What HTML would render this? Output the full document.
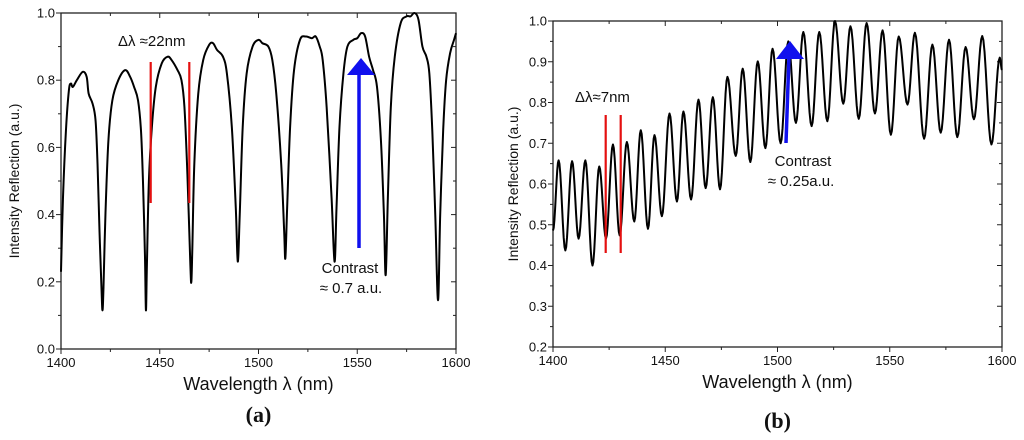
<!DOCTYPE html>
<html><head><meta charset="utf-8">
<style>
body{margin:0;background:#fff;width:1024px;height:440px;overflow:hidden}
svg{display:block}
text{font-family:"Liberation Sans",sans-serif;fill:#111}
</style></head>
<body>
<svg id="fig" width="1024" height="440" viewBox="0 0 1024 440"></svg>
<script>
// ---- Panel (a) data ----
const wlA=[1400,1401,1402.5,1404,1405,1406,1408,1411,1413,1414,1416,1417.5,1418.5,1419.5,1420.5,1421,1421.5,1422.5,1424,1426,1429,1432.5,1435,1437,1439,1440.5,1441.5,1442.5,1443,1443.5,1444.5,1446,1448,1451,1454,1456,1459,1461,1462.5,1464,1465.5,1466,1466.5,1467.5,1469.5,1472,1475,1477,1479,1482,1484,1486.5,1488.5,1489.5,1490.5,1492,1494,1497,1500,1502,1505,1507,1509,1511.5,1513,1513.6,1514.5,1516,1518,1521,1524,1527,1529,1531,1532.5,1534.5,1537,1538.5,1539.5,1541,1543,1545,1548,1550,1552,1554,1556,1558,1560,1562,1563.5,1564.4,1565.5,1567,1569,1572,1575,1577,1579,1581,1583,1585,1586.5,1588,1589.5,1590.9,1592,1593.5,1595,1597,1599,1600];
const reflA=[0.23,0.45,0.65,0.77,0.79,0.78,0.80,0.825,0.81,0.76,0.73,0.68,0.55,0.35,0.18,0.115,0.18,0.40,0.62,0.74,0.80,0.83,0.81,0.78,0.74,0.65,0.50,0.28,0.115,0.25,0.50,0.66,0.78,0.85,0.87,0.86,0.83,0.80,0.72,0.52,0.25,0.20,0.30,0.55,0.76,0.86,0.905,0.91,0.89,0.87,0.82,0.66,0.42,0.26,0.40,0.66,0.82,0.90,0.92,0.91,0.90,0.86,0.76,0.55,0.35,0.27,0.42,0.66,0.83,0.92,0.93,0.925,0.93,0.90,0.86,0.72,0.45,0.26,0.42,0.66,0.82,0.90,0.92,0.925,0.94,0.93,0.87,0.83,0.78,0.62,0.40,0.22,0.45,0.72,0.87,0.97,0.99,0.99,1.0,0.98,0.90,0.87,0.82,0.65,0.40,0.145,0.40,0.65,0.80,0.88,0.92,0.94];
const yTicksA=["0.0","0.2","0.4","0.6","0.8","1.0"];
const xTicks=["1400","1450","1500","1550","1600"];
// ---- Panel (b) data (alternating extrema) ----
const wlB=[1400,1402.5,1405.5,1408.5,1411.4,1414.4,1417.6,1420.6,1423.6,1426.7,1429.7,1432.9,1436.2,1439.1,1442.3,1445.2,1448.5,1451.9,1455.2,1458.1,1461.5,1464.8,1468,1471.2,1474.4,1477.7,1481.4,1484.5,1487.9,1491.2,1494.6,1497.8,1501.4,1504.8,1508.2,1511.5,1515.2,1518.6,1522.2,1525.6,1529.3,1532.5,1536.2,1539.7,1543.4,1546.8,1550.5,1554,1557.9,1561.2,1565.3,1569,1572.7,1576.4,1580.1,1583.8,1587.5,1591.2,1595.3,1599,1600];
const reflB=[0.486,0.658,0.437,0.656,0.466,0.658,0.40,0.643,0.466,0.697,0.474,0.703,0.508,0.732,0.49,0.72,0.521,0.773,0.557,0.778,0.562,0.807,0.59,0.813,0.587,0.863,0.669,0.883,0.654,0.901,0.688,0.932,0.70,0.95,0.75,0.973,0.742,0.973,0.754,1.0,0.797,0.987,0.76,0.995,0.773,0.977,0.721,0.962,0.795,0.971,0.711,0.942,0.726,0.954,0.715,0.936,0.759,0.963,0.697,0.91,0.88];
const yTicksB=["0.2","0.3","0.4","0.5","0.6","0.7","0.8","0.9","1.0"];

const NS="http://www.w3.org/2000/svg";
const svg=document.getElementById('fig');
function el(tag,attrs,parent){const e=document.createElementNS(NS,tag);for(const k in attrs)e.setAttribute(k,attrs[k]);(parent||svg).appendChild(e);return e;}

function panel(cfg){
  const g=el('g',{});
  
  
  const xs=v=>cfg.x0+(v-1400)/200*(cfg.x1-cfg.x0);
  const ys=v=>cfg.yb+(v-cfg.ymin)/(cfg.ymax-cfg.ymin)*(cfg.yt-cfg.yb);
  const fr=el('rect',{x:cfg.x0,y:cfg.yt,width:cfg.x1-cfg.x0,height:cfg.yb-cfg.yt,fill:'none',stroke:'#222','stroke-width':1.3},g);
  
  
  for(let v=1400;v<=1600;v+=25){
    const X=xs(v),maj=(v%50===0);
    el('line',{x1:X,x2:X,y1:cfg.yb,y2:cfg.yb+(maj?5:3),stroke:'#222'},g);
    el('line',{x1:X,x2:X,y1:cfg.yt,y2:cfg.yt+(maj?5:3),stroke:'#222'},g);
  }
  xTicks.forEach(t=>{const tx=el('text',{x:xs(+t),y:cfg.yb+18,'text-anchor':'middle','font-size':13},g);tx.textContent=t;
    
    });
  const step=cfg.ystep;
  for(let v=cfg.ymin;v<=cfg.ymax+1e-9;v+=step/2){
    const Y=ys(v),maj=Math.abs(Math.round(v/step)*step-v)<1e-6;
    el('line',{x1:cfg.x0-(maj?5:3),x2:cfg.x0,y1:Y,y2:Y,stroke:'#222'},g);
    el('line',{x1:cfg.x1-(maj?5:3),x2:cfg.x1,y1:Y,y2:Y,stroke:'#222'},g);
  }
  cfg.yTicks.forEach(t=>{const tx=el('text',{x:cfg.x0-6,y:ys(+t)+4.5,'text-anchor':'end','font-size':13},g);tx.textContent=t;
    
    });
  const xt=el('text',{x:(cfg.x0+cfg.x1)/2,y:cfg.yb+41,'text-anchor':'middle','font-size':18},g);
  xt.textContent='Wavelength λ (nm)';
  
  
  const yc=(cfg.yt+cfg.yb)/2;
  const yt=el('text',{x:cfg.ylx,y:yc,'text-anchor':'middle','font-size':14,transform:`rotate(-90 ${cfg.ylx} ${yc})`},g);
  yt.textContent='Intensity Reflection (a.u.)';
  
  
  const pl=el('text',{x:(cfg.x0+cfg.x1)/2,y:cfg.plY,'text-anchor':'middle','font-size':22,'font-weight':'bold',style:'font-family:"Liberation Serif",serif'},g);
  pl.textContent=cfg.label;
  
  
  let d='';
  const wl=cfg.wl,r=cfg.r;
  if(cfg.smooth){
    for(let i=0;i<wl.length;i++){
      if(i===0){d+=`M${xs(wl[0])},${ys(r[0])}`;continue;}
      const a=wl[i-1],b=wl[i],ra=r[i-1],rb=r[i];
      for(let k=1;k<=8;k++){const t=k/8,s=(1-Math.cos(Math.PI*t))/2;d+=`L${xs(a+(b-a)*t).toFixed(2)},${ys(ra+(rb-ra)*s).toFixed(2)}`;}
    }
  } else {
    // Catmull-Rom smoothing
    const P=wl.map((w,i)=>[xs(w),ys(r[i])]);
    d=`M${P[0][0]},${P[0][1]}`;
    for(let i=0;i<P.length-1;i++){
      const p0=P[Math.max(0,i-1)],p1=P[i],p2=P[i+1],p3=P[Math.min(P.length-1,i+2)];
      const c1=[p1[0]+(p2[0]-p0[0])/6,p1[1]+(p2[1]-p0[1])/6];
      const c2=[p2[0]-(p3[0]-p1[0])/6,p2[1]-(p3[1]-p1[1])/6];
      d+=`C${c1[0].toFixed(2)},${c1[1].toFixed(2)} ${c2[0].toFixed(2)},${c2[1].toFixed(2)} ${p2[0].toFixed(2)},${p2[1].toFixed(2)}`;
    }
  }
  const p=el('path',{d,fill:'none',stroke:'#000','stroke-width':2,'stroke-linejoin':'round'},g);
  
  
  return g;
}

panel({name:'panel-a',x0:61,x1:456,yt:13,yb:349,ymin:0,ymax:1,ystep:0.2,yTicks:yTicksA,wl:wlA,r:reflA,smooth:false,ylx:19,label:'(a)',plY:422});
panel({name:'panel-b',x0:553,x1:1002,yt:21,yb:347,ymin:0.2,ymax:1,ystep:0.1,yTicks:yTicksB,wl:wlB,r:reflB,smooth:true,ylx:518,label:'(b)',plY:428});

function ann(tag,attrs,name,txt){const e=el(tag,attrs);if(txt)e.textContent=txt;return e;}
ann('line',{x1:150.7,x2:150.7,y1:62,y2:203,stroke:'#e41010','stroke-width':2.2},'fsr-marker-left');
ann('line',{x1:189.3,x2:189.3,y1:62,y2:203,stroke:'#e41010','stroke-width':2.2},'fsr-marker-right');
ann('text',{x:118,y:46,'font-size':15},'fsr-label','Δλ ≈22nm');
ann('line',{x1:359,x2:359,y1:248,y2:72,stroke:'#1010ee','stroke-width':3.5},'contrast-arrow-shaft');
ann('polygon',{points:'347,75 375,75 361,58',fill:'#1010ee'},'contrast-arrow-head');
ann('text',{x:350,y:273,'font-size':15,'text-anchor':'middle'},'contrast-label','Contrast');
ann('text',{x:351,y:293,'font-size':15,'text-anchor':'middle'},'contrast-value','≈ 0.7 a.u.');
ann('line',{x1:605.7,x2:605.7,y1:115,y2:253,stroke:'#e41010','stroke-width':2.2},'fsr-marker-left-b');
ann('line',{x1:620.7,x2:620.7,y1:115,y2:253,stroke:'#e41010','stroke-width':2.2},'fsr-marker-right-b');
ann('text',{x:575,y:102,'font-size':15},'fsr-label-b','Δλ≈7nm');
ann('line',{x1:786,x2:789,y1:143,y2:56,stroke:'#1010ee','stroke-width':3.5},'contrast-arrow-shaft-b');
ann('polygon',{points:'776,59 804,59 790,41',fill:'#1010ee'},'contrast-arrow-head-b');
ann('text',{x:803,y:166,'font-size':15,'text-anchor':'middle'},'contrast-label-b','Contrast');
ann('text',{x:801,y:186,'font-size':15,'text-anchor':'middle'},'contrast-value-b','≈ 0.25a.u.');
</script>
</body></html>
